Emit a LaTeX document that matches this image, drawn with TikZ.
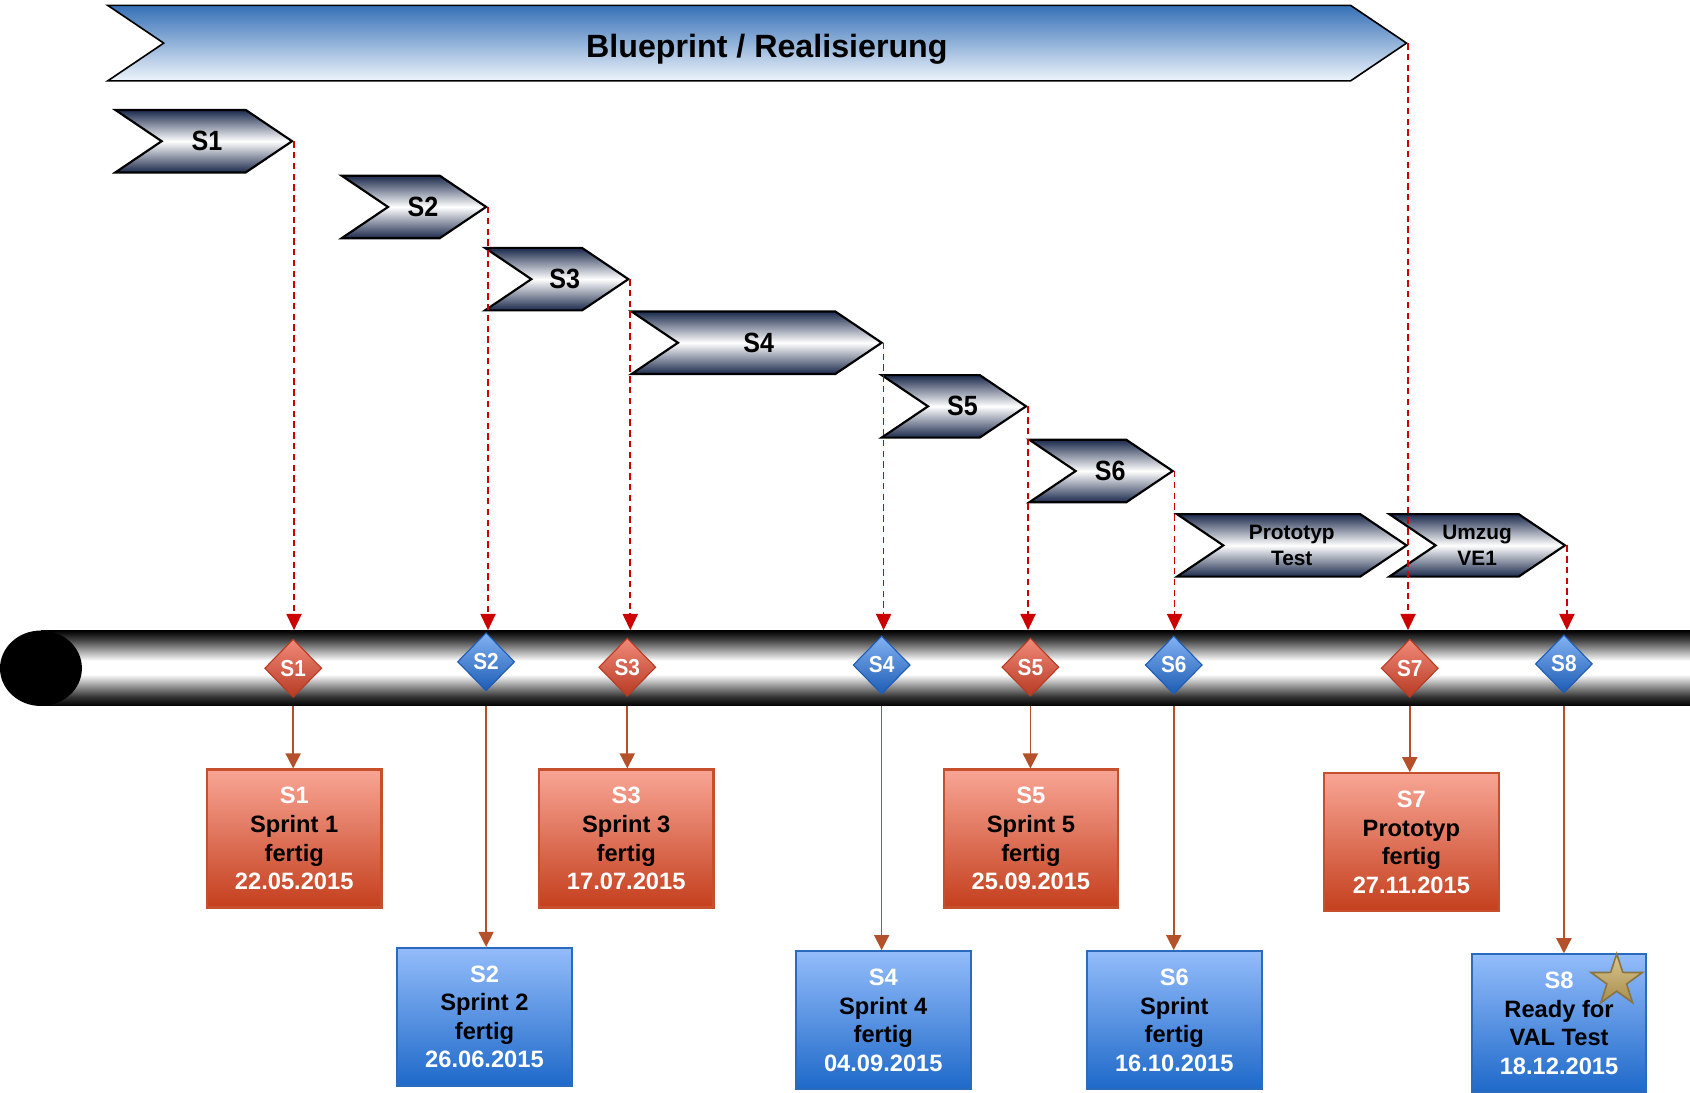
\documentclass[tikz,border=0pt]{standalone}
\usepackage{fontspec}
\setmainfont{Liberation Sans}
\newfontfamily\narrowfont[FakeStretch=0.9]{Liberation Sans}
\usetikzlibrary{shapes.geometric, shapes.symbols, arrows.meta, positioning}
\definecolor{chevnavy}{HTML}{1B2A4C}
\definecolor{planblue}{HTML}{3570B7}
\definecolor{planwhite}{HTML}{EEF4FB}
\definecolor{redtop}{HTML}{F8A595}
\definecolor{redbot}{HTML}{C43F1D}
\definecolor{redrim}{HTML}{C6502C}
\definecolor{bluetop}{HTML}{93BCFA}
\definecolor{bluebot}{HTML}{1E69C9}
\definecolor{bluerim}{HTML}{2B6BBD}
\definecolor{gemredtop}{HTML}{F28A7A}
\definecolor{gemredbot}{HTML}{B63A22}
\definecolor{gembluetop}{HTML}{82B2F2}
\definecolor{gembluebot}{HTML}{1D5CB4}
\definecolor{dashred}{HTML}{CC0000}
\definecolor{linkbrown}{HTML}{B4502A}
\definecolor{startop}{HTML}{DCC890}
\definecolor{starbot}{HTML}{A68C4E}
\definecolor{starrim}{HTML}{8A7442}
\pgfdeclareverticalshading{tubeshade}{100bp}{color(0bp)=(black); color(25bp)=(black); color(31bp)=(black!80); color(46bp)=(white); color(55bp)=(white); color(69bp)=(black!75); color(75bp)=(black); color(100bp)=(black)}

\begin{document}
\begin{tikzpicture}[x=0.2mm, y=-0.2mm,
  chev/.style={signal, signal from=west, signal to=east, signal pointer angle=68, draw=black, line width=0.4mm, top color=chevnavy, bottom color=chevnavy, middle color=white, minimum height=11.6mm, inner sep=0pt, font={\narrowfont\bfseries\fontsize{14.7}{16}\selectfont}},
  chevsmall/.style={chev, align=center, font={\bfseries\fontsize{11}{13.6}\selectfont}},
  gem/.style={diamond, minimum width=10.6mm, minimum height=10.8mm, inner sep=0pt, text=white, line width=0.2mm, font={\narrowfont\bfseries\fontsize{12.2}{13}\selectfont}},
  redgem/.style={gem, top color=gemredtop, bottom color=gemredbot, draw=gemredbot},
  bluegem/.style={gem, top color=gembluetop, bottom color=gembluebot, draw=gembluebot},
  card/.style={rectangle, minimum width=32.4mm, minimum height=25.6mm, inner sep=0pt, align=center, line width=0.4mm, font={\bfseries\fontsize{12.5}{15.1}\selectfont}},
  redcard/.style={card, top color=redtop, bottom color=redbot, draw=redrim},
  bluecard/.style={card, top color=bluetop, bottom color=bluebot, draw=bluerim},
  droparrow/.style={dashred, line width=0.3mm, dash pattern=on 1.2mm off 0.8mm, -{Triangle[width=2.8mm, length=3mm]}},
  linkarrow/.style={linkbrown, line width=0.3mm, -{Triangle[width=2.8mm, length=2.8mm]}}]
  \useasboundingbox (0,0) rectangle (1568,1014);
  \node[chev, minimum width=241mm, minimum height=14mm, line width=0.3mm, top color=planblue, bottom color=planwhite, text height=5.5mm, text depth=0pt, font={\bfseries\fontsize{17}{20}\selectfont}] (plan) at (702.5,40) {\hspace*{3.6mm}Blueprint / Realisierung};
  \node[chev, minimum width=32.8mm] (s1) at (189,131) {\hspace*{1.2mm}S1};
  \node[chev, minimum width=26.8mm] (s2) at (384,192) {\hspace*{3.4mm}S2};
  \node[chev, minimum width=26.6mm] (s3) at (516.5,259) {\hspace*{3mm}S3};
  \node[chev, minimum width=46.4mm] (s4) at (702,318) {\hspace*{0.8mm}S4};
  \node[chev, minimum width=26.8mm] (s5) at (885,377) {\hspace*{3.2mm}S5};
  \node[chev, minimum width=26.6mm] (s6) at (1021.5,437) {\hspace*{3.4mm}S6};
  \node[chevsmall, minimum width=42.6mm] (proto) at (1198.5,506) {Prototyp\\Test};
  \node[chevsmall, minimum width=32.6mm] (move) at (1370.5,506) {Umzug\\VE1};
  \node[shade, shading=tubeshade, minimum width=306mm, minimum height=14mm, inner sep=0pt] (tube) at (803,620) {};
  \node[ellipse, fill=black, minimum width=15.2mm, minimum height=14mm, inner sep=0pt] (cap) at (38,620) {};
  \node[redgem] (d1) at (272,620) {S1};
  \node[bluegem] (d2) at (451,614) {S2};
  \node[redgem] (d3) at (582,619) {S3};
  \node[bluegem] (d4) at (818,617) {S4};
  \node[redgem] (d5) at (956,619) {S5};
  \node[bluegem] (d6) at (1089,617) {S6};
  \node[redgem] (d7) at (1308,620) {S7};
  \node[bluegem] (d8) at (1451,616) {S8};
  \draw[droparrow] (s1.east) -- (s1.east |- tube.north);
  \draw[droparrow] (s2.east) -- (s2.east |- tube.north);
  \draw[droparrow] (s3.east) -- (s3.east |- tube.north);
  \draw[droparrow] (s4.east) -- (s4.east |- tube.north);
  \draw[droparrow] (s5.east) -- (s5.east |- tube.north);
  \draw[droparrow] (s6.east) -- (s6.east |- tube.north);
  \draw[droparrow] (plan.east) -- (plan.east |- tube.north);
  \draw[droparrow] (move.east) -- (move.east |- tube.north);
  \node[redcard] (b1) at (273,778) {\textcolor{white}{S1}\\Sprint 1\\fertig\\\textcolor{white}{22.05.2015}};
  \node[bluecard] (b2) at (449.5,943.5) {\textcolor{white}{S2}\\Sprint 2\\fertig\\\textcolor{white}{26.06.2015}};
  \node[redcard] (b3) at (581,778) {\textcolor{white}{S3}\\Sprint 3\\fertig\\\textcolor{white}{17.07.2015}};
  \node[bluecard] (b4) at (819.5,946.5) {\textcolor{white}{S4}\\Sprint 4\\fertig\\\textcolor{white}{04.09.2015}};
  \node[redcard] (b5) at (956.5,778) {\textcolor{white}{S5}\\Sprint 5\\fertig\\\textcolor{white}{25.09.2015}};
  \node[bluecard] (b6) at (1089.5,946.5) {\textcolor{white}{S6}\\Sprint\\fertig\\\textcolor{white}{16.10.2015}};
  \node[redcard] (b7) at (1309.5,781.5) {\textcolor{white}{S7}\\Prototyp\\fertig\\\textcolor{white}{27.11.2015}};
  \node[bluecard] (b8) at (1446.5,949.5) {\textcolor{white}{S8}\\Ready for\\VAL Test\\\textcolor{white}{18.12.2015}};
  \node[star, star points=5, star point ratio=2.6, minimum size=10mm, inner sep=0pt, top color=startop, bottom color=starbot, draw=starrim, line width=0.3mm] (star) at (1500,910) {};
  \draw[linkarrow] (d1 |- tube.south) -- (d1 |- b1.north);
  \draw[linkarrow] (d2 |- tube.south) -- (d2 |- b2.north);
  \draw[linkarrow] (d3 |- tube.south) -- (d3 |- b3.north);
  \draw[linkarrow] (d4 |- tube.south) -- (d4 |- b4.north);
  \draw[linkarrow] (d5 |- tube.south) -- (d5 |- b5.north);
  \draw[linkarrow] (d6 |- tube.south) -- (d6 |- b6.north);
  \draw[linkarrow] (d7 |- tube.south) -- (d7 |- b7.north);
  \draw[linkarrow] (d8 |- tube.south) -- (d8 |- b8.north);
\end{tikzpicture}
\end{document}
